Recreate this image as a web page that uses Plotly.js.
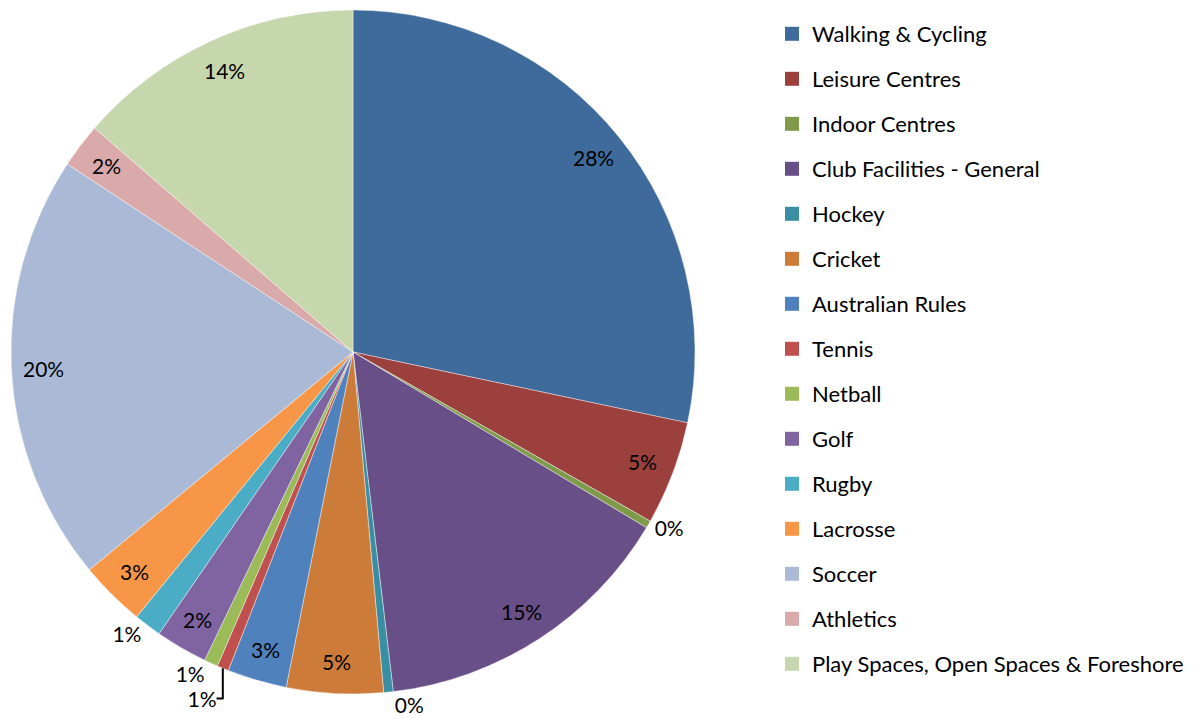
<!DOCTYPE html>
<html>
<head>
<meta charset="utf-8">
<script src="https://cdn.plot.ly/plotly-3.0.1.min.js"></script>
<style>html,body{margin:0;padding:0;background:#fff;}#chart{width:1199px;height:719px;}</style>
</head>
<body>
<div id="chart"></div>
<script>
const categories = ["Walking & Cycling","Leisure Centres","Indoor Centres","Club Facilities - General","Hockey","Cricket","Australian Rules","Tennis","Netball","Golf","Rugby","Lacrosse","Soccer","Athletics","Play Spaces, Open Spaces & Foreshore"];
const shares = [28.25, 4.9, 0.35, 14.5, 0.45, 4.55, 2.8, 0.55, 0.65, 2.45, 1.3, 3.1, 20.2, 2.1, 13.6];
const colors = ["#3F6A9C","#9C403E","#7F9A48","#694F87","#3A8EA3","#CC7B38","#4F81BD","#C0504D","#9BBB59","#8064A2","#4BACC6","#F79646","#AAB9D6","#D9AAA9","#C6D6AD"];
const labelPos = ["inside","inside","outside","inside","outside","inside","inside","outside","outside","inside","outside","inside","inside","inside","inside"];

const FONT = "Lato, 'Open Sans', sans-serif";
const W = 1199, H = 719;
const pieBox = {l: 11, r: 695, t: 10, b: 694};
const cx = (pieBox.l + pieBox.r) / 2, cy = (pieBox.t + pieBox.b) / 2, R = (pieBox.r - pieBox.l) / 2;
const total = shares.reduce((a, b) => a + b, 0);

// outside labels via the pie itself; inside labels placed near the rim like the original
const tmpl = labelPos.map(p => p === "outside" ? "%{percent:.0%}" : "");
const annotations = [];
let cum = 0;
shares.forEach((v, i) => {
  const mid = (cum + v / 2) / total * 2 * Math.PI;
  cum += v;
  if (labelPos[i] !== "inside") return;
  const rr = R * 0.905;
  const px = cx + rr * Math.sin(mid), py = cy - rr * Math.cos(mid);
  annotations.push({
    xref: "paper", yref: "paper", x: px / W, y: 1 - py / H,
    xanchor: "center", yanchor: "middle", showarrow: false,
    text: Math.round(v / total * 100) + "%",
    font: {family: FONT, size: 21, color: "#000"}
  });
});

const traces = [{
  type: "pie",
  labels: categories,
  values: shares,
  sort: false,
  direction: "clockwise",
  rotation: 0,
  marker: {colors: colors, line: {color: "rgba(255,255,255,0.7)", width: 0.6}},
  texttemplate: tmpl,
  textposition: labelPos,
  insidetextorientation: "horizontal",
  textfont: {family: FONT, size: 21, color: "#000"},
  showlegend: false,
  hoverinfo: "label+percent",
  domain: {x: [pieBox.l / W, pieBox.r / W], y: [1 - pieBox.b / H, 1 - pieBox.t / H]}
}];
categories.forEach((c, i) => {
  traces.push({
    type: "scatter", mode: "markers", x: [null], y: [null],
    name: c, legendgroup: "g" + i,
    marker: {symbol: "square", size: 14, color: colors[i]},
    showlegend: true, hoverinfo: "skip"
  });
});

const layout = {
  width: W, height: H,
  margin: {l: 0, r: 0, t: 0, b: 0},
  paper_bgcolor: "#fff", plot_bgcolor: "#fff",
  font: {family: FONT, size: 22, color: "#000"},
  xaxis: {visible: false}, yaxis: {visible: false},
  showlegend: true,
  annotations: annotations,
  legend: {x: 772 / W, y: 1 - 13 / H, xanchor: "left", yanchor: "top",
    font: {family: FONT, size: 22, color: "#000"}, tracegroupgap: 13.4,
    itemwidth: 30, bgcolor: "rgba(0,0,0,0)"}
};
Plotly.newPlot("chart", traces, layout, {displayModeBar: false, staticPlot: true});
</script>
</body>
</html>
